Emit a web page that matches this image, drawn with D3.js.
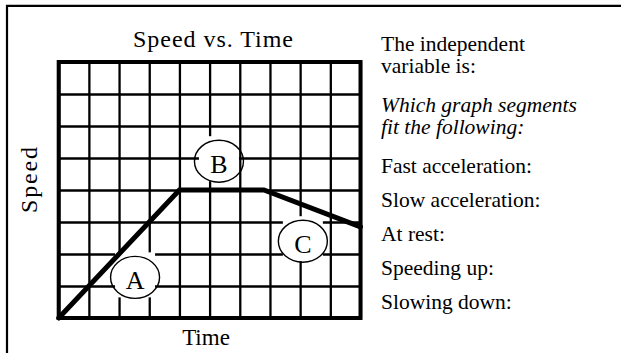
<!DOCTYPE html>
<html>
<head>
<meta charset="utf-8">
<script src="https://cdn.jsdelivr.net/npm/d3@7"></script>
<style>
  html, body { margin: 0; padding: 0; background: #fff; }
  svg { display: block; }
</style>
</head>
<body>
<svg id="chart" width="623" height="353"></svg>
<script>
// ---- data ----
const timeTicks = [0,1,2,3,4,5,6,7,8,9,10];
const speedTicks = [0,1,2,3,4,5,6,7,8];
const timeVals = [0, 4, 6.8, 10];
const speedVals = [0, 4, 4, 2.85];
const segLabels = ["A", "B", "C"];
const segTime = [2.53, 5.31, 8.09];
const segSpeed = [1.27, 4.9, 2.4];
const chartTitle = "Speed vs. Time";
const xTitle = "Time";
const yTitle = "Speed";
const sideLines = ["The independent", "variable is:", "Which graph segments", "fit the following:",
  "Fast acceleration:", "Slow acceleration:", "At rest:", "Speeding up:", "Slowing down:"];
const sideItalic = [false, false, true, true, false, false, false, false, false];
const sideBaselines = [50.7, 72.7, 111.7, 134, 172.5, 206.5, 240.5, 274.5, 308.5];

const SERIF = "'Liberation Serif', 'Times New Roman', Times, serif";

// ---- layout ----
const svg = d3.select("#chart");
const x = d3.scaleLinear().domain([0, 10]).range([58.7, 360.5]);
const y = d3.scaleLinear().domain([0, 8]).range([318, 62]);

// outer frame (left + top)
svg.append("path")
  .attr("d", "M7,353 L7,5.8 L621,5.8")
  .attr("fill", "none").attr("stroke", "#000").attr("stroke-width", 2.2);

// grid via axes
const gx = svg.append("g").attr("transform", `translate(0,${y(0)})`)
  .call(d3.axisBottom(x).tickValues(timeTicks).tickSize(-(y(0) - y(8))).tickFormat(""));
const gy = svg.append("g").attr("transform", `translate(${x(0)},0)`)
  .call(d3.axisLeft(y).tickValues(speedTicks).tickSize(-(x(10) - x(0))).tickFormat(""));
[gx, gy].forEach(g => {
  g.select(".domain").remove();
  g.selectAll(".tick line").attr("stroke", "#000").attr("stroke-width", 2.3);
});

// halos behind segment labels
svg.append("g").selectAll("rect").data(segLabels).join("rect")
  .attr("x", (d, i) => x(segTime[i]) - 20)
  .attr("y", (d, i) => y(segSpeed[i]) - 25)
  .attr("width", 40).attr("height", 45)
  .attr("fill", "#fff");

// outer grid border
svg.append("rect")
  .attr("x", x(0)).attr("y", y(8))
  .attr("width", x(10) - x(0)).attr("height", y(0) - y(8))
  .attr("fill", "none").attr("stroke", "#000").attr("stroke-width", 4);

// data line
const line = d3.line().x((d, i) => x(timeVals[i])).y((d, i) => y(speedVals[i]));
svg.append("path")
  .attr("d", line(timeVals))
  .attr("fill", "none").attr("stroke", "#000").attr("stroke-width", 5)
  .attr("stroke-linecap", "round").attr("stroke-linejoin", "miter");

// segment labels
const lg = svg.append("g").selectAll("g").data(segLabels).join("g")
  .attr("transform", (d, i) => `translate(${x(segTime[i])},${y(segSpeed[i])})`);
lg.append("ellipse").attr("rx", 24.5).attr("ry", 21)
  .attr("fill", "none").attr("stroke", "#000").attr("stroke-width", 1.4);
lg.append("text").attr("text-anchor", "middle").attr("y", 12)
  .attr("font-family", SERIF).attr("font-size", 26).text(d => d);

// titles
svg.append("text").attr("x", 213).attr("y", 47).attr("text-anchor", "middle")
  .attr("font-family", SERIF).attr("font-size", 24)
  .attr("textLength", 160).attr("lengthAdjust", "spacing").text(chartTitle);
svg.append("text").attr("x", 206).attr("y", 345).attr("text-anchor", "middle")
  .attr("font-family", SERIF).attr("font-size", 23).text(xTitle);
svg.append("text").attr("transform", "translate(36.5,180) rotate(-90)")
  .attr("text-anchor", "middle").attr("font-family", SERIF).attr("font-size", 24)
  .attr("textLength", 66).attr("lengthAdjust", "spacing").text(yTitle);

// side text
svg.append("g").selectAll("text").data(sideLines).join("text")
  .attr("x", 381).attr("y", (d, i) => sideBaselines[i])
  .attr("font-family", SERIF)
  .attr("font-size", 21.5)
  .attr("font-style", (d, i) => sideItalic[i] ? "italic" : "normal")
  .text(d => d);
</script>
</body>
</html>
